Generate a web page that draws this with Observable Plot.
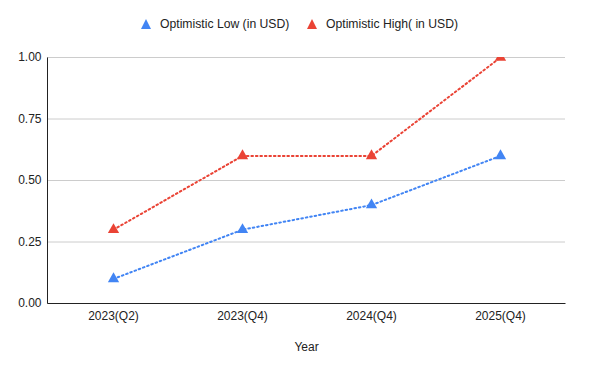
<!DOCTYPE html>
<html>
<head>
<meta charset="utf-8">
<script src="https://cdn.jsdelivr.net/npm/d3@7"></script>
<script src="https://cdn.jsdelivr.net/npm/@observablehq/plot@0.6"></script>
<style>
  body { margin: 0; background: #fff; font-family: "Liberation Sans", Arial, sans-serif; }
  #legend { height: 40px; position: relative; font-size: 12.2px; color: #222; }
  .item { position: absolute; top: 17px; display: flex; align-items: center; white-space: nowrap; }
  .tri { width: 0; height: 0; border-left: 5px solid transparent; border-right: 5px solid transparent; margin-right: 9px; }
</style>
</head>
<body>
<div id="legend"></div>
<div id="chart"></div>
<script>
const categories = ["2023(Q2)", "2023(Q4)", "2024(Q4)", "2025(Q4)"];
const seriesNames = ["Optimistic Low (in USD)", "Optimistic High( in USD)"];
const lowValues = [0.1, 0.3, 0.4, 0.6];
const highValues = [0.3, 0.6, 0.6, 1.0];
const yTicks = [0, 0.25, 0.5, 0.75, 1.0];
const colors = ["#4285F4", "#EA4335"];

const data = [];
categories.forEach((c, i) => {
  data.push({cat: c, value: lowValues[i], series: seriesNames[0]});
  data.push({cat: c, value: highValues[i], series: seriesNames[1]});
});

// legend
const legend = document.getElementById("legend");
const lefts = [141, 307];
seriesNames.forEach((s, i) => {
  const d = document.createElement("div");
  d.className = "item";
  d.style.left = lefts[i] + "px";
  const t = document.createElement("span");
  t.className = "tri";
  t.style.borderBottom = `10px solid ${colors[i]}`;
  d.appendChild(t);
  const l = document.createElement("span");
  l.textContent = s;
  d.appendChild(l);
  legend.appendChild(d);
});

const W = 600, H = 331, ML = 47, MR = 35, MT = 17, MB = 68;
const fw = W - ML - MR, fh = H - MT - MB;

const chart = Plot.plot({
  width: W,
  height: H,
  marginLeft: ML,
  marginRight: MR,
  marginTop: MT,
  marginBottom: MB,
  style: {fontFamily: "Liberation Sans, Arial, sans-serif", fontSize: "12px", color: "#222", background: "#fff"},
  x: {type: "point", domain: categories, padding: 0.5, label: null},
  y: {domain: [0, 1], ticks: yTicks, label: null},
  color: {domain: seriesNames, range: colors},
  marks: [
    Plot.gridY(yTicks, {stroke: "#ccc", strokeOpacity: 1}),
    Plot.axisY(yTicks, {tickSize: 0, tickPadding: 6, tickFormat: d3.format(".2f"), fontSize: 12, fill: "#222"}),
    Plot.axisX({tickSize: 0, tickPadding: 8, fontSize: 12, fill: "#222", label: null}),
    Plot.text(["Year"], {frameAnchor: "bottom", dy: 47, fontSize: 12, fill: "#222"}),
    Plot.line(data, {x: "cat", y: "value", z: "series", stroke: "series", strokeWidth: 2, strokeDasharray: "1.6,2.9"}),
    Plot.dot(data, {x: "cat", y: "value", fill: "series", symbol: "triangle", r: 4.2, clip: true}),
    // frame outline showing only bottom and left edges (the axis lines)
    Plot.frame({stroke: "#222", strokeWidth: 1, strokeOpacity: 1, strokeDasharray: `0,${fw + fh},${fw + fh}`})
  ]
});
document.getElementById("chart").appendChild(chart);
</script>
</body>
</html>
